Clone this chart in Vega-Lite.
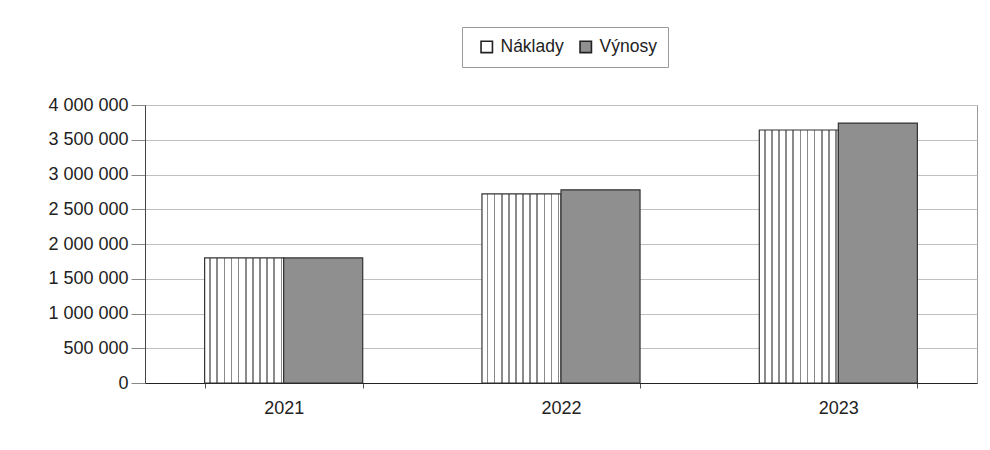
{
  "$schema": "https://vega.github.io/schema/vega-lite/v6.json",
  "autosize": "none",
  "width": 832,
  "height": 278,
  "padding": {"left": 145, "top": 105, "right": 13, "bottom": 67},
  "background": "white",
  "data": {
    "values": [
      {"rok": "2021", "serie": "Náklady", "hodnota": 1800000},
      {"rok": "2021", "serie": "Výnosy", "hodnota": 1800000},
      {"rok": "2022", "serie": "Náklady", "hodnota": 2720000},
      {"rok": "2022", "serie": "Výnosy", "hodnota": 2780000},
      {"rok": "2023", "serie": "Náklady", "hodnota": 3640000},
      {"rok": "2023", "serie": "Výnosy", "hodnota": 3740000}
    ]
  },
  "mark": {"type": "bar", "stroke": "#333333", "strokeWidth": 1.2},
  "encoding": {
    "x": {
      "field": "rok", "type": "nominal",
      "scale": {"paddingInner": 0.43, "paddingOuter": 0.215},
      "axis": {"title": null, "labelAngle": 0, "tickBand": "extent", "labelPadding": 11, "tickSize": 5, "domainColor": "#222222", "tickColor": "#555555"}
    },
    "xOffset": {"field": "serie", "type": "nominal", "scale": {"paddingInner": 0, "paddingOuter": 0}},
    "y": {
      "field": "hodnota", "type": "quantitative",
      "scale": {"domain": [0, 4000000]},
      "axis": {"title": null, "values": [0, 500000, 1000000, 1500000, 2000000, 2500000, 3000000, 3500000, 4000000],
               "labelExpr": "replace(format(datum.value, ',d'), /,/g, ' ')",
               "tickSize": 14, "labelPadding": 3, "gridColor": "#c0c0c0", "domainColor": "#444444", "tickColor": "#888888"}
    },
    "fill": {
      "condition": {
        "test": "datum.serie === 'Náklady'",
        "value": {
          "gradient": "linear", "x1": 0, "x2": 1, "y1": 0, "y2": 0,
          "stops": [
            {"offset": 0.0, "color": "white"}, {"offset": 0.06, "color": "white"}, {"offset": 0.06, "color": "#8a8a8a"}, {"offset": 0.08, "color": "#8a8a8a"}, {"offset": 0.08, "color": "white"},
            {"offset": 0.15, "color": "white"}, {"offset": 0.15, "color": "#8a8a8a"}, {"offset": 0.17, "color": "#8a8a8a"}, {"offset": 0.17, "color": "white"},
            {"offset": 0.24, "color": "white"}, {"offset": 0.24, "color": "#8a8a8a"}, {"offset": 0.26, "color": "#8a8a8a"}, {"offset": 0.26, "color": "white"},
            {"offset": 0.33, "color": "white"}, {"offset": 0.33, "color": "#8a8a8a"}, {"offset": 0.35, "color": "#8a8a8a"}, {"offset": 0.35, "color": "white"},
            {"offset": 0.42, "color": "white"}, {"offset": 0.42, "color": "#8a8a8a"}, {"offset": 0.44, "color": "#8a8a8a"}, {"offset": 0.44, "color": "white"},
            {"offset": 0.51, "color": "white"}, {"offset": 0.51, "color": "#8a8a8a"}, {"offset": 0.53, "color": "#8a8a8a"}, {"offset": 0.53, "color": "white"},
            {"offset": 0.60, "color": "white"}, {"offset": 0.60, "color": "#8a8a8a"}, {"offset": 0.62, "color": "#8a8a8a"}, {"offset": 0.62, "color": "white"},
            {"offset": 0.69, "color": "white"}, {"offset": 0.69, "color": "#8a8a8a"}, {"offset": 0.71, "color": "#8a8a8a"}, {"offset": 0.71, "color": "white"},
            {"offset": 0.78, "color": "white"}, {"offset": 0.78, "color": "#8a8a8a"}, {"offset": 0.80, "color": "#8a8a8a"}, {"offset": 0.80, "color": "white"},
            {"offset": 0.87, "color": "white"}, {"offset": 0.87, "color": "#8a8a8a"}, {"offset": 0.89, "color": "#8a8a8a"}, {"offset": 0.89, "color": "white"},
            {"offset": 0.96, "color": "white"}, {"offset": 0.96, "color": "#8a8a8a"}, {"offset": 0.98, "color": "#8a8a8a"}, {"offset": 0.98, "color": "white"},
            {"offset": 1.0, "color": "white"}
          ]
        }
      },
      "field": "serie", "type": "nominal",
      "scale": {"domain": ["Náklady", "Výnosy"], "range": ["white", "#8f8f8f"]},
      "legend": {
        "title": null, "orient": "none", "legendX": 317, "legendY": -78, "direction": "horizontal",
        "symbolType": "square", "symbolSize": 130, "symbolStrokeColor": "#222222", "symbolStrokeWidth": 1.6,
        "labelFontSize": 17.5, "columnPadding": 8, "symbolOffset": 5,
        "padding": 11, "strokeColor": "#9a9a9a", "fillColor": "white", "labelOffset": 5
      }
    }
  },
  "config": {
    "font": "Liberation Sans",
    "view": {"stroke": "#999999", "strokeWidth": 1},
    "axis": {"labelFontSize": 18, "labelColor": "#222222", "labelFont": "Liberation Sans", "gridWidth": 1},
    "legend": {"labelFont": "Liberation Sans", "labelColor": "#222222"}
  }
}
